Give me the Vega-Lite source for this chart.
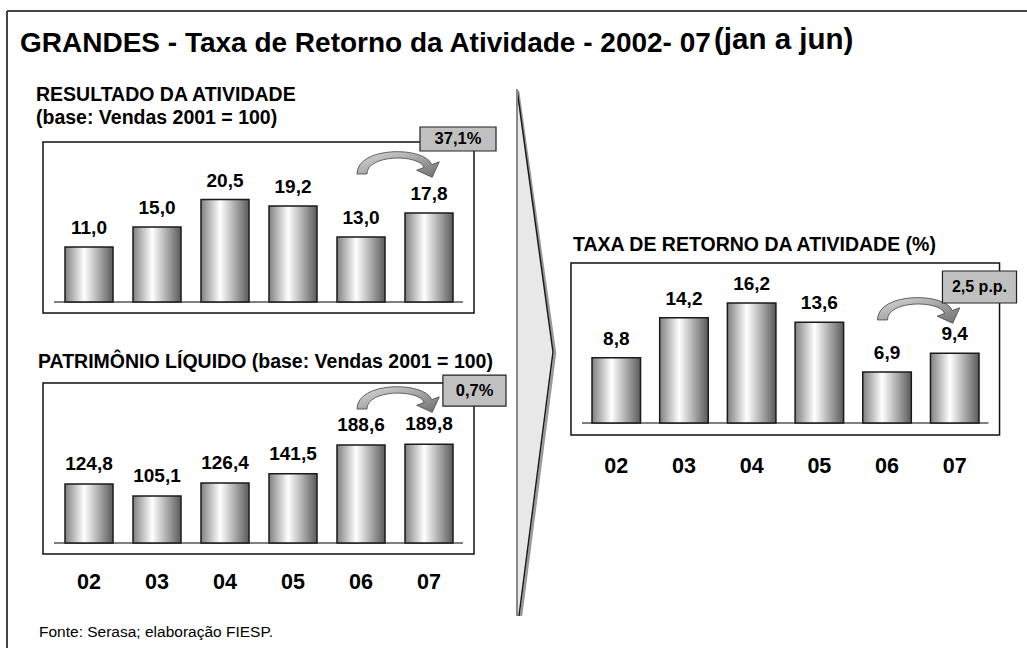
{
  "$schema": "https://vega.github.io/schema/vega-lite/v6.json",
  "width": 1027,
  "height": 648,
  "padding": 0,
  "autosize": {"type": "none"},
  "background": "white",
  "config": {
    "view": {"stroke": null},
    "font": "Liberation Sans",
    "locale": {"number": {"decimal": ",", "thousands": ".", "grouping": [3], "currency": ["R$", ""]}}
  },
  "datasets": {
    "resultado": [
      {"ano": "02", "valor": 11.0}, {"ano": "03", "valor": 15.0}, {"ano": "04", "valor": 20.5},
      {"ano": "05", "valor": 19.2}, {"ano": "06", "valor": 13.0}, {"ano": "07", "valor": 17.8}
    ],
    "patrimonio": [
      {"ano": "02", "valor": 124.8}, {"ano": "03", "valor": 105.1}, {"ano": "04", "valor": 126.4},
      {"ano": "05", "valor": 141.5}, {"ano": "06", "valor": 188.6}, {"ano": "07", "valor": 189.8}
    ],
    "taxa": [
      {"ano": "02", "valor": 8.8}, {"ano": "03", "valor": 14.2}, {"ano": "04", "valor": 16.2},
      {"ano": "05", "valor": 13.6}, {"ano": "06", "valor": 6.9}, {"ano": "07", "valor": 9.4}
    ],
    "um": [{}]
  },
  "layer": [
    {
      "data": {"name": "resultado"},
      "layer": [
        {"data": {"name": "um"},
         "mark": {"type": "rect", "fill": "white", "stroke": "#111", "strokeWidth": 1.5},
         "encoding": {
           "x": {"datum": "02", "bandPosition": -0.458, "type": "nominal", "axis": null, "scale": {"type": "band", "domain": ["02","03","04","05","06","07"], "range": [65, 453], "paddingInner": 0.294, "paddingOuter": 0}},
           "x2": {"datum": "07", "bandPosition": 1.4375},
           "y": {"datum": 32, "type": "quantitative", "axis": null, "scale": {"domain": [0, 32], "range": [302, 142], "nice": false, "zero": false}},
           "y2": {"datum": -2.2}
         }},
        {"data": {"name": "um"},
         "mark": {"type": "rule", "stroke": "#808080", "strokeWidth": 2},
         "encoding": {
           "x": {"datum": "02", "bandPosition": -0.229, "type": "nominal", "axis": null, "scale": {"type": "band", "domain": ["02","03","04","05","06","07"], "range": [65, 453], "paddingInner": 0.294, "paddingOuter": 0}},
           "x2": {"datum": "07", "bandPosition": 1.208},
           "y": {"datum": 0, "type": "quantitative", "axis": null, "scale": {"domain": [0, 32], "range": [302, 142], "nice": false, "zero": false}}
         }},
        {"mark": {"type": "bar", "stroke": "#1a1a1a", "strokeWidth": 1.5,
                  "fill": {"gradient": "linear", "x1": 0, "y1": 0, "x2": 1, "y2": 0,
                           "stops": [{"offset": 0, "color": "#808080"}, {"offset": 0.4, "color": "#ffffff"}, {"offset": 1, "color": "#5a5a5a"}]}},
         "encoding": {
           "x": {"field": "ano", "type": "nominal", "axis": null, "scale": {"type": "band", "domain": ["02","03","04","05","06","07"], "range": [65, 453], "paddingInner": 0.294, "paddingOuter": 0}},
           "y": {"field": "valor", "type": "quantitative", "axis": null, "scale": {"domain": [0, 32], "range": [302, 142], "nice": false, "zero": false}},
           "y2": {"datum": 0}
         }},
        {"mark": {"type": "text", "dy": -19, "fontSize": 19, "fontWeight": "bold", "color": "#000", "baseline": "middle"},
         "encoding": {
           "x": {"field": "ano", "type": "nominal", "axis": null, "scale": {"type": "band", "domain": ["02","03","04","05","06","07"], "range": [65, 453], "paddingInner": 0.294, "paddingOuter": 0}},
           "y": {"field": "valor", "type": "quantitative", "axis": null, "scale": {"domain": [0, 32], "range": [302, 142], "nice": false, "zero": false}},
           "text": {"field": "valor", "type": "quantitative", "format": ".1f"}
         }},
        {"data": {"name": "um"},
         "mark": {"type": "point", "shape": "M-41,10 C-41,-18 26.8,-18 33.8,0.6 L41.3,-2.2 L34.2,13.3 L18.7,6.2 L26.2,3.4 C21,-10 -31,-10 -31,10 Z", "size": 4, "filled": true, "opacity": 1, "strokeWidth": 0.8, "stroke": "#444",
                  "fill": {"gradient": "linear", "x1": 0, "y1": 0, "x2": 1, "y2": 1, "stops": [{"offset": 0, "color": "#dcdcdc"}, {"offset": 1, "color": "#6e6e6e"}]}},
         "encoding": {
           "x": {"datum": "07", "bandPosition": -0.146, "type": "nominal", "axis": null, "scale": {"type": "band", "domain": ["02","03","04","05","06","07"], "range": [65, 453], "paddingInner": 0.294, "paddingOuter": 0}},
           "y": {"datum": 27.6, "type": "quantitative", "axis": null, "scale": {"domain": [0, 32], "range": [302, 142], "nice": false, "zero": false}}
         }},
        {"data": {"name": "um"},
         "mark": {"type": "rect", "fill": "#c0c0c0", "stroke": "#222", "strokeWidth": 1.2},
         "encoding": {
           "x": {"datum": "07", "bandPosition": 0.3125, "type": "nominal", "axis": null, "scale": {"type": "band", "domain": ["02","03","04","05","06","07"], "range": [65, 453], "paddingInner": 0.294, "paddingOuter": 0}},
           "x2": {"datum": "07", "bandPosition": 1.896},
           "y": {"datum": 35, "type": "quantitative", "axis": null, "scale": {"domain": [0, 32], "range": [302, 142], "nice": false, "zero": false}},
           "y2": {"datum": 30.2}
         }},
        {"data": {"name": "um"},
         "mark": {"type": "text", "text": "37,1%", "fontSize": 16.5, "fontWeight": "bold", "color": "#000", "baseline": "middle"},
         "encoding": {
           "x": {"datum": "07", "bandPosition": 1.104, "type": "nominal", "axis": null, "scale": {"type": "band", "domain": ["02","03","04","05","06","07"], "range": [65, 453], "paddingInner": 0.294, "paddingOuter": 0}},
           "y": {"datum": 32.6, "type": "quantitative", "axis": null, "scale": {"domain": [0, 32], "range": [302, 142], "nice": false, "zero": false}}
         }}
      ]
    },
    {
      "data": {"name": "patrimonio"},
      "layer": [
        {"data": {"name": "um"},
         "mark": {"type": "rect", "fill": "white", "stroke": "#111", "strokeWidth": 1.5},
         "encoding": {
           "x": {"datum": "02", "bandPosition": -0.458, "type": "nominal", "axis": null, "scale": {"type": "band", "domain": ["02","03","04","05","06","07"], "range": [65, 453], "paddingInner": 0.294, "paddingOuter": 0}},
           "x2": {"datum": "07", "bandPosition": 1.4375},
           "y": {"datum": 290, "type": "quantitative", "axis": null, "scale": {"domain": [28, 290], "range": [543, 383], "nice": false, "zero": false}},
           "y2": {"datum": 10}
         }},
        {"data": {"name": "um"},
         "mark": {"type": "rule", "stroke": "#808080", "strokeWidth": 2},
         "encoding": {
           "x": {"datum": "02", "bandPosition": -0.229, "type": "nominal", "axis": null, "scale": {"type": "band", "domain": ["02","03","04","05","06","07"], "range": [65, 453], "paddingInner": 0.294, "paddingOuter": 0}},
           "x2": {"datum": "07", "bandPosition": 1.208},
           "y": {"datum": 28, "type": "quantitative", "axis": null, "scale": {"domain": [28, 290], "range": [543, 383], "nice": false, "zero": false}}
         }},
        {"mark": {"type": "bar", "stroke": "#1a1a1a", "strokeWidth": 1.5,
                  "fill": {"gradient": "linear", "x1": 0, "y1": 0, "x2": 1, "y2": 0,
                           "stops": [{"offset": 0, "color": "#808080"}, {"offset": 0.4, "color": "#ffffff"}, {"offset": 1, "color": "#5a5a5a"}]}},
         "encoding": {
           "x": {"field": "ano", "type": "nominal", "axis": null, "scale": {"type": "band", "domain": ["02","03","04","05","06","07"], "range": [65, 453], "paddingInner": 0.294, "paddingOuter": 0}},
           "y": {"field": "valor", "type": "quantitative", "axis": null, "scale": {"domain": [28, 290], "range": [543, 383], "nice": false, "zero": false}},
           "y2": {"datum": 28}
         }},
        {"mark": {"type": "text", "dy": -20, "fontSize": 19, "fontWeight": "bold", "color": "#000", "baseline": "middle"},
         "encoding": {
           "x": {"field": "ano", "type": "nominal", "axis": null, "scale": {"type": "band", "domain": ["02","03","04","05","06","07"], "range": [65, 453], "paddingInner": 0.294, "paddingOuter": 0}},
           "y": {"field": "valor", "type": "quantitative", "axis": null, "scale": {"domain": [28, 290], "range": [543, 383], "nice": false, "zero": false}},
           "text": {"field": "valor", "type": "quantitative", "format": ".1f"}
         }},
        {"mark": {"type": "text", "dy": 40, "fontSize": 21.5, "fontWeight": "bold", "color": "#000", "baseline": "middle"},
         "encoding": {
           "x": {"field": "ano", "type": "nominal", "axis": null, "scale": {"type": "band", "domain": ["02","03","04","05","06","07"], "range": [65, 453], "paddingInner": 0.294, "paddingOuter": 0}},
           "y": {"datum": 28, "type": "quantitative", "axis": null, "scale": {"domain": [28, 290], "range": [543, 383], "nice": false, "zero": false}},
           "text": {"field": "ano", "type": "nominal"}
         }},
        {"data": {"name": "um"},
         "mark": {"type": "point", "shape": "M-41,10 C-41,-18 26.8,-18 33.8,0.6 L41.3,-2.2 L34.2,13.3 L18.7,6.2 L26.2,3.4 C21,-10 -31,-10 -31,10 Z", "size": 4, "filled": true, "opacity": 1, "strokeWidth": 0.8, "stroke": "#444",
                  "fill": {"gradient": "linear", "x1": 0, "y1": 0, "x2": 1, "y2": 1, "stops": [{"offset": 0, "color": "#dcdcdc"}, {"offset": 1, "color": "#6e6e6e"}]}},
         "encoding": {
           "x": {"datum": "07", "bandPosition": -0.146, "type": "nominal", "axis": null, "scale": {"type": "band", "domain": ["02","03","04","05","06","07"], "range": [65, 453], "paddingInner": 0.294, "paddingOuter": 0}},
           "y": {"datum": 263.7, "type": "quantitative", "axis": null, "scale": {"domain": [28, 290], "range": [543, 383], "nice": false, "zero": false}}
         }},
        {"data": {"name": "um"},
         "mark": {"type": "rect", "fill": "#c0c0c0", "stroke": "#222", "strokeWidth": 1.2},
         "encoding": {
           "x": {"datum": "07", "bandPosition": 0.79, "type": "nominal", "axis": null, "scale": {"type": "band", "domain": ["02","03","04","05","06","07"], "range": [65, 453], "paddingInner": 0.294, "paddingOuter": 0}},
           "x2": {"datum": "07", "bandPosition": 2.104},
           "y": {"datum": 303, "type": "quantitative", "axis": null, "scale": {"domain": [28, 290], "range": [543, 383], "nice": false, "zero": false}},
           "y2": {"datum": 252.2}
         }},
        {"data": {"name": "um"},
         "mark": {"type": "text", "text": "0,7%", "fontSize": 16.5, "fontWeight": "bold", "color": "#000", "baseline": "middle"},
         "encoding": {
           "x": {"datum": "07", "bandPosition": 1.448, "type": "nominal", "axis": null, "scale": {"type": "band", "domain": ["02","03","04","05","06","07"], "range": [65, 453], "paddingInner": 0.294, "paddingOuter": 0}},
           "y": {"datum": 277.6, "type": "quantitative", "axis": null, "scale": {"domain": [28, 290], "range": [543, 383], "nice": false, "zero": false}}
         }}
      ]
    },
    {
      "data": {"name": "taxa"},
      "layer": [
        {"data": {"name": "um"},
         "mark": {"type": "rect", "fill": "white", "stroke": "#111", "strokeWidth": 1.5},
         "encoding": {
           "x": {"datum": "02", "bandPosition": -0.433, "type": "nominal", "axis": null, "scale": {"type": "band", "domain": ["02","03","04","05","06","07"], "range": [592, 979], "paddingInner": 0.283, "paddingOuter": 0}},
           "x2": {"datum": "07", "bandPosition": 1.423},
           "y": {"datum": 21.6, "type": "quantitative", "axis": null, "scale": {"domain": [0, 21.6], "range": [423, 263], "nice": false, "zero": false}},
           "y2": {"datum": -1.62}
         }},
        {"data": {"name": "um"},
         "mark": {"type": "rule", "stroke": "#808080", "strokeWidth": 2},
         "encoding": {
           "x": {"datum": "02", "bandPosition": -0.206, "type": "nominal", "axis": null, "scale": {"type": "band", "domain": ["02","03","04","05","06","07"], "range": [592, 979], "paddingInner": 0.283, "paddingOuter": 0}},
           "x2": {"datum": "07", "bandPosition": 1.196},
           "y": {"datum": 0, "type": "quantitative", "axis": null, "scale": {"domain": [0, 21.6], "range": [423, 263], "nice": false, "zero": false}}
         }},
        {"mark": {"type": "bar", "stroke": "#1a1a1a", "strokeWidth": 1.5,
                  "fill": {"gradient": "linear", "x1": 0, "y1": 0, "x2": 1, "y2": 0,
                           "stops": [{"offset": 0, "color": "#808080"}, {"offset": 0.4, "color": "#ffffff"}, {"offset": 1, "color": "#5a5a5a"}]}},
         "encoding": {
           "x": {"field": "ano", "type": "nominal", "axis": null, "scale": {"type": "band", "domain": ["02","03","04","05","06","07"], "range": [592, 979], "paddingInner": 0.283, "paddingOuter": 0}},
           "y": {"field": "valor", "type": "quantitative", "axis": null, "scale": {"domain": [0, 21.6], "range": [423, 263], "nice": false, "zero": false}},
           "y2": {"datum": 0}
         }},
        {"mark": {"type": "text", "dy": -19, "fontSize": 19, "fontWeight": "bold", "color": "#000", "baseline": "middle"},
         "encoding": {
           "x": {"field": "ano", "type": "nominal", "axis": null, "scale": {"type": "band", "domain": ["02","03","04","05","06","07"], "range": [592, 979], "paddingInner": 0.283, "paddingOuter": 0}},
           "y": {"field": "valor", "type": "quantitative", "axis": null, "scale": {"domain": [0, 21.6], "range": [423, 263], "nice": false, "zero": false}},
           "text": {"field": "valor", "type": "quantitative", "format": ".1f"}
         }},
        {"mark": {"type": "text", "dy": 44, "fontSize": 21.5, "fontWeight": "bold", "color": "#000", "baseline": "middle"},
         "encoding": {
           "x": {"field": "ano", "type": "nominal", "axis": null, "scale": {"type": "band", "domain": ["02","03","04","05","06","07"], "range": [592, 979], "paddingInner": 0.283, "paddingOuter": 0}},
           "y": {"datum": 0, "type": "quantitative", "axis": null, "scale": {"domain": [0, 21.6], "range": [423, 263], "nice": false, "zero": false}},
           "text": {"field": "ano", "type": "nominal"}
         }},
        {"data": {"name": "um"},
         "mark": {"type": "point", "shape": "M-41,10 C-41,-18 26.8,-18 33.8,0.6 L41.3,-2.2 L34.2,13.3 L18.7,6.2 L26.2,3.4 C21,-10 -31,-10 -31,10 Z", "size": 4, "filled": true, "opacity": 1, "strokeWidth": 0.8, "stroke": "#444",
                  "fill": {"gradient": "linear", "x1": 0, "y1": 0, "x2": 1, "y2": 1, "stops": [{"offset": 0, "color": "#dcdcdc"}, {"offset": 1, "color": "#6e6e6e"}]}},
         "encoding": {
           "x": {"datum": "07", "bandPosition": -0.247, "type": "nominal", "axis": null, "scale": {"type": "band", "domain": ["02","03","04","05","06","07"], "range": [592, 979], "paddingInner": 0.283, "paddingOuter": 0}},
           "y": {"datum": 15.26, "type": "quantitative", "axis": null, "scale": {"domain": [0, 21.6], "range": [423, 263], "nice": false, "zero": false}}
         }},
        {"data": {"name": "um"},
         "mark": {"type": "rect", "fill": "#c0c0c0", "stroke": "#222", "strokeWidth": 1.2},
         "encoding": {
           "x": {"datum": "07", "bandPosition": 0.247, "type": "nominal", "axis": null, "scale": {"type": "band", "domain": ["02","03","04","05","06","07"], "range": [592, 979], "paddingInner": 0.283, "paddingOuter": 0}},
           "x2": {"datum": "07", "bandPosition": 1.773},
           "y": {"datum": 20.52, "type": "quantitative", "axis": null, "scale": {"domain": [0, 21.6], "range": [423, 263], "nice": false, "zero": false}},
           "y2": {"datum": 16.2}
         }},
        {"data": {"name": "um"},
         "mark": {"type": "text", "text": "2,5 p.p.", "fontSize": 16, "fontWeight": "bold", "color": "#000", "baseline": "middle"},
         "encoding": {
           "x": {"datum": "07", "bandPosition": 1.01, "type": "nominal", "axis": null, "scale": {"type": "band", "domain": ["02","03","04","05","06","07"], "range": [592, 979], "paddingInner": 0.283, "paddingOuter": 0}},
           "y": {"datum": 18.36, "type": "quantitative", "axis": null, "scale": {"domain": [0, 21.6], "range": [423, 263], "nice": false, "zero": false}}
         }}
      ]
    },
    {
      "data": {"name": "um"},
      "layer": [
        {"mark": {"type": "rule", "stroke": "#444", "strokeWidth": 2},
         "encoding": {"x": {"value": 7}, "y": {"value": 11}, "y2": {"value": 648}}},
        {"mark": {"type": "rule", "stroke": "#444", "strokeWidth": 2},
         "encoding": {"x": {"value": 7}, "x2": {"value": 1027}, "y": {"value": 11}}},
        {"mark": {"type": "point", "shape": "M-18,-261 L18,2 L-16,266 L-18,266 Z", "size": 4, "filled": true, "fill": "#e8e8e8", "opacity": 1, "strokeWidth": 0},
         "encoding": {"x": {"value": 535}, "y": {"value": 350}}},
        {"mark": {"type": "point", "shape": "M-17,-259 L20,3 L-14,266", "size": 4, "filled": false, "stroke": "#9a9a9a", "strokeWidth": 2.5, "opacity": 1},
         "encoding": {"x": {"value": 535}, "y": {"value": 350}}},
        {"mark": {"type": "point", "shape": "M-18,-261 L18,2 L-16,266", "size": 4, "filled": false, "stroke": "#1a1a1a", "strokeWidth": 1.5, "opacity": 1},
         "encoding": {"x": {"value": 535}, "y": {"value": 350}}},
        {"mark": {"type": "rule", "stroke": "#8a8a8a", "strokeWidth": 2},
         "encoding": {"x": {"value": 517}, "y": {"value": 89}, "y2": {"value": 616}}},
        {"mark": {"type": "text", "text": "GRANDES - Taxa de Retorno da Atividade - 2002- 07", "fontSize": 28, "fontWeight": "bold", "align": "left", "baseline": "alphabetic", "color": "#000"},
         "encoding": {"x": {"value": 20}, "y": {"value": 52}}},
        {"mark": {"type": "text", "text": "(jan a jun)", "fontSize": 29.5, "fontWeight": "bold", "align": "left", "baseline": "alphabetic", "color": "#000"},
         "encoding": {"x": {"value": 714}, "y": {"value": 49}}},
        {"mark": {"type": "text", "text": "RESULTADO DA ATIVIDADE", "fontSize": 19.5, "fontWeight": "bold", "align": "left", "baseline": "alphabetic", "color": "#000"},
         "encoding": {"x": {"value": 36}, "y": {"value": 101}}},
        {"mark": {"type": "text", "text": "(base: Vendas 2001 = 100)", "fontSize": 19.5, "fontWeight": "bold", "align": "left", "baseline": "alphabetic", "color": "#000"},
         "encoding": {"x": {"value": 36}, "y": {"value": 124}}},
        {"mark": {"type": "text", "text": "PATRIMÔNIO LÍQUIDO (base: Vendas 2001 = 100)", "fontSize": 19.5, "fontWeight": "bold", "align": "left", "baseline": "alphabetic", "color": "#000"},
         "encoding": {"x": {"value": 38}, "y": {"value": 368}}},
        {"mark": {"type": "text", "text": "TAXA DE RETORNO DA ATIVIDADE (%)", "fontSize": 19.5, "fontWeight": "bold", "align": "left", "baseline": "alphabetic", "color": "#000"},
         "encoding": {"x": {"value": 573}, "y": {"value": 251}}},
        {"mark": {"type": "text", "text": "Fonte: Serasa; elaboração FIESP.", "fontSize": 15.5, "align": "left", "baseline": "alphabetic", "color": "#000"},
         "encoding": {"x": {"value": 39}, "y": {"value": 637}}}
      ]
    }
  ],
  "resolve": {"scale": {"x": "independent", "y": "independent"}}
}
